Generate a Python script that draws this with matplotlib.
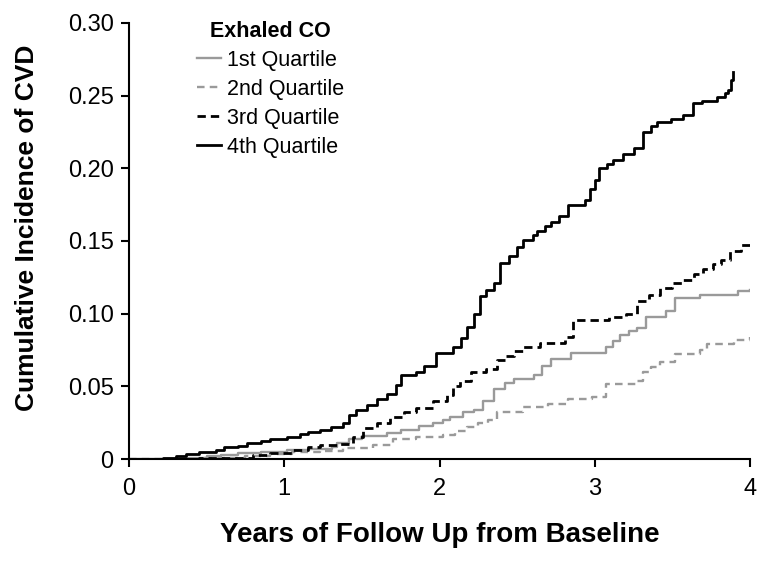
import matplotlib
matplotlib.use("Agg")
from matplotlib import pyplot as plt

plt.rcParams['font.family'] = ['Liberation Sans', 'DejaVu Sans']

# step times (years) and cumulative incidence
q1_t = [0, 0.30, 0.37, 0.50, 0.59, 0.70, 0.85, 1.02, 1.15, 1.31, 1.34, 1.42, 1.50, 1.66,
        1.75, 1.87, 1.96, 2.02, 2.07, 2.15, 2.22, 2.28, 2.35, 2.42, 2.48, 2.61, 2.66, 2.72,
        2.85, 3.07, 3.12, 3.16, 3.22, 3.27, 3.33, 3.46, 3.52, 3.68, 3.92, 4.0]
q1_v = [0, 0.0005, 0.001, 0.002, 0.003, 0.004, 0.005, 0.006, 0.007, 0.008, 0.011, 0.014,
        0.016, 0.018, 0.020, 0.023, 0.025, 0.027, 0.029, 0.032, 0.034, 0.040, 0.048, 0.052,
        0.055, 0.058, 0.064, 0.069, 0.073, 0.077, 0.081, 0.085, 0.088, 0.090, 0.098, 0.102,
        0.111, 0.113, 0.1155, 0.116]

q2_t = [0, 0.45, 0.59, 0.75, 0.91, 1.05, 1.23, 1.38, 1.57, 1.70, 1.85, 2.02, 2.10, 2.18,
        2.25, 2.31, 2.37, 2.54, 2.70, 2.83, 2.98, 3.07, 3.27, 3.31, 3.36, 3.42, 3.52, 3.68,
        3.72, 3.90, 4.0]
q2_v = [0, 0.0005, 0.001, 0.002, 0.0035, 0.0045, 0.0055, 0.0075, 0.0096, 0.014, 0.015,
        0.0165, 0.019, 0.022, 0.025, 0.027, 0.032, 0.036, 0.038, 0.041, 0.043, 0.0515,
        0.0537, 0.060, 0.063, 0.067, 0.072, 0.075, 0.079, 0.082, 0.084]

q3_t = [0, 0.45, 0.65, 0.80, 0.91, 1.05, 1.15, 1.23, 1.34, 1.44, 1.51, 1.60, 1.68, 1.77,
        1.85, 1.96, 2.05, 2.09, 2.13, 2.20, 2.30, 2.37, 2.42, 2.48, 2.54, 2.65, 2.81, 2.86,
        3.09, 3.20, 3.27, 3.35, 3.42, 3.50, 3.57, 3.64, 3.70, 3.76, 3.81, 3.87, 3.94, 4.0]
q3_v = [0, 0.0005, 0.001, 0.0025, 0.004, 0.006, 0.008, 0.0096, 0.010, 0.015, 0.021, 0.025,
        0.029, 0.032, 0.035, 0.040, 0.044, 0.050, 0.054, 0.060, 0.062, 0.068, 0.071, 0.074,
        0.077, 0.080, 0.084, 0.0955, 0.0977, 0.100, 0.109, 0.113, 0.118, 0.121, 0.123,
        0.127, 0.131, 0.134, 0.137, 0.143, 0.147, 0.150]

q4_t = [0, 0.22, 0.30, 0.37, 0.45, 0.56, 0.61, 0.70, 0.76, 0.85, 0.91, 1.02, 1.10, 1.15,
        1.23, 1.30, 1.38, 1.42, 1.46, 1.53, 1.60, 1.66, 1.72, 1.75, 1.85, 1.90, 1.98, 2.09,
        2.14, 2.18, 2.22, 2.26, 2.30, 2.35, 2.39, 2.45, 2.50, 2.54, 2.60, 2.63, 2.68, 2.72,
        2.77, 2.83, 2.94, 2.97, 3.00, 3.03, 3.08, 3.12, 3.18, 3.25, 3.31, 3.36, 3.40, 3.49,
        3.57, 3.63, 3.69, 3.79, 3.84, 3.86, 3.88, 3.89]
q4_v = [0, 0.001, 0.002, 0.0035, 0.0045, 0.006, 0.008, 0.009, 0.011, 0.0125, 0.014, 0.015,
        0.017, 0.0186, 0.020, 0.022, 0.025, 0.030, 0.034, 0.037, 0.041, 0.045, 0.051, 0.058,
        0.060, 0.064, 0.073, 0.077, 0.083, 0.091, 0.100, 0.112, 0.116, 0.121, 0.135, 0.140,
        0.146, 0.151, 0.154, 0.157, 0.160, 0.163, 0.167, 0.175, 0.178, 0.186, 0.192, 0.200,
        0.203, 0.206, 0.210, 0.214, 0.225, 0.229, 0.232, 0.234, 0.237, 0.245, 0.246, 0.249,
        0.252, 0.254, 0.261, 0.266]

labels = ['1st Quartile', '2nd Quartile', '3rd Quartile', '4th Quartile']
xticks = [0, 1, 2, 3, 4]
yticks = [0, 0.05, 0.10, 0.15, 0.20, 0.25, 0.30]
ytick_labels = ['0', '0.05', '0.10', '0.15', '0.20', '0.25', '0.30']

fig = plt.figure(figsize=(7.64, 5.62), dpi=100)
ax = fig.add_axes([129 / 764, 1 - 459 / 562, 621 / 764, 436 / 562])

gray = '#9a9a9a'
ax.step(q1_t, q1_v, where='post', color=gray, lw=1.7, label=labels[0])
ax.step(q2_t, q2_v, where='post', color=gray, lw=1.7, dashes=(3.2, 2.2), label=labels[1])
ax.step(q3_t, q3_v, where='post', color='black', lw=2.0, dashes=(3, 1.8), label=labels[2])
ax.step(q4_t, q4_v, where='post', color='black', lw=2.0, label=labels[3])

ax.set_xlim(0, 4)
ax.set_ylim(0, 0.30)
ax.set_xticks(xticks)
ax.set_xticklabels([str(x) for x in xticks])
ax.set_yticks(yticks)
ax.set_yticklabels(ytick_labels)
ax.tick_params(axis='both', direction='out', length=6, width=1.5, labelsize=17)
ax.tick_params(axis='x', pad=8)
ax.tick_params(axis='y', pad=5)

for s in ['top', 'right']:
    ax.spines[s].set_visible(False)
for s in ['left', 'bottom']:
    ax.spines[s].set_linewidth(1.5)

ax.set_xlabel('Years of Follow Up from Baseline', fontsize=20, fontweight='bold')
ax.set_ylabel('Cumulative Incidence of CVD', fontsize=19, fontweight='bold')
ax.xaxis.set_label_coords(0.5, -0.145)
ax.yaxis.set_label_coords(-0.145, 0.53)

leg = ax.legend(loc='upper left', bbox_to_anchor=(68 / 621, 1.005), frameon=False,
                fontsize=15.5, title='Exhaled CO', handlelength=1.1, handletextpad=0.3,
                labelspacing=0.37, borderpad=0, borderaxespad=0)
leg.get_title().set_fontweight('bold')
leg.get_title().set_fontsize(15.5)

fig.savefig('out.png', dpi=100)
